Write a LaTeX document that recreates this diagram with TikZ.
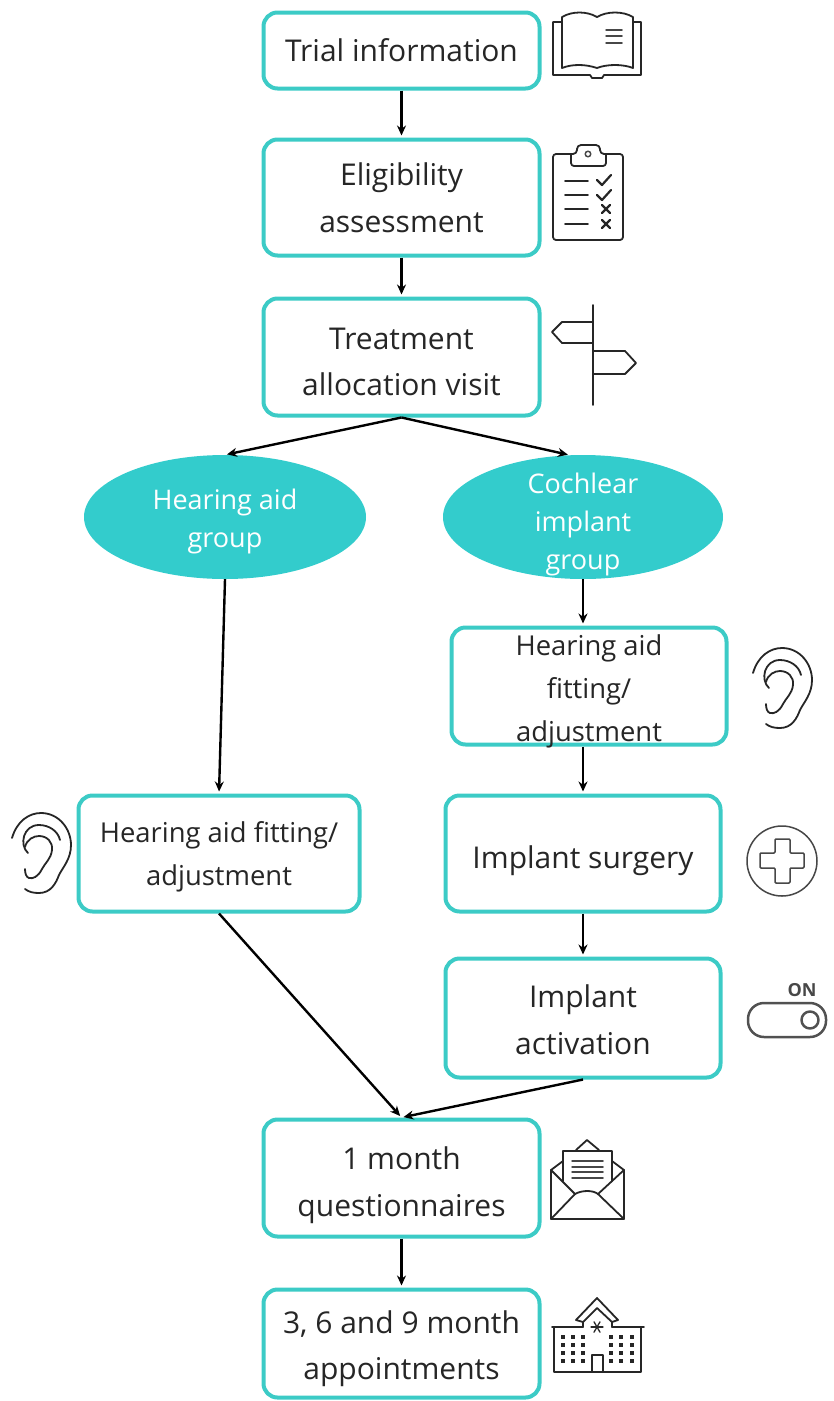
\documentclass[tikz,border=0pt]{standalone}
\usepackage{fontspec}
\setmainfont{Open Sans}
\definecolor{tealline}{HTML}{3CCBC6}
\definecolor{tealfill}{HTML}{33CCCC}
\definecolor{icongray}{HTML}{262626}
\newcommand{\bigtxt}{\fontsize{30}{46.5}\selectfont}
\newcommand{\midtxt}{\fontsize{27.4}{43}\selectfont}
\newcommand{\elltxt}{\fontsize{27}{38}\selectfont}
\newcommand{\dropln}[1]{\rule{0pt}{#1pt}}
\usetikzlibrary{arrows.meta,shapes.geometric}
\tikzset{
  flowbox/.style={draw=tealline,line width=4pt,rounded corners=14pt,fill=white,align=center,inner sep=0pt,text=black!85,font=\bigtxt},
  midbox/.style={flowbox,font=\midtxt},
  groupnode/.style={ellipse,fill=tealfill,text=white,align=center,inner sep=0pt,font=\elltxt},
  flowarrow/.style={-{Stealth[length=10pt,width=9pt]},line width=2.4pt,shorten >=2pt},
  iconline/.style={draw=icongray,line width=1.8pt,line join=round,line cap=round},
  iconthin/.style={draw=icongray!85,line width=1.5pt,line join=round,line cap=round}
}
\begin{document}
\begin{tikzpicture}[x=1pt,y=-1pt]
  \useasboundingbox (0,0) rectangle (834,1401);
  \node[flowbox,minimum width=276pt,minimum height=76pt] (trial) at (401.5,50.5) {Trial information};
  \node[flowbox,minimum width=276pt,minimum height=116pt] (elig) at (401.5,197.5) {Eligibility\\assessment};
  \node[flowbox,minimum width=276pt,minimum height=117pt] (alloc) at (401.5,357) {\dropln{31}Treatment\\allocation visit};
  \node[groupnode,minimum width=282pt,minimum height=124pt] (hagroup) at (225,517) {\dropln{29}Hearing aid\\group};
  \node[groupnode,inner sep=-16pt,minimum width=280pt,minimum height=124pt] (cigroup) at (583,517) {\dropln{35}Cochlear\\implant\\group};
  \node[midbox,inner ysep=-8pt,minimum width=275pt,minimum height=117pt] (hafitr) at (589,686) {\dropln{31}Hearing aid\\fitting/\\adjustment};
  \node[midbox,minimum width=281pt,minimum height=116pt] (hafitl) at (219,853.5) {\dropln{27}Hearing aid fitting/\\adjustment};
  \node[flowbox,minimum width=275pt,minimum height=116pt] (surgery) at (583,853.5) {\dropln{37}Implant surgery};
  \node[flowbox,minimum width=275pt,minimum height=119pt] (activ) at (583,1018) {\dropln{26}Implant\\activation};
  \node[flowbox,minimum width=276pt,minimum height=117pt] (month) at (401.5,1178) {\dropln{37}1 month\\questionnaires};
  \node[flowbox,minimum width=276pt,minimum height=108pt] (appt) at (401.5,1343.5) {\dropln{33}3, 6 and 9 month\\appointments};

  \foreach \a/\b in {trial/elig,elig/alloc,hagroup/hafitl,activ/month,hafitl/month,month/appt,surgery/activ}
    \draw[flowarrow] (\a.south) -- (\b.north);
  \draw[flowarrow] (cigroup.south) -- (cigroup.south |- hafitr.north);
  \draw[flowarrow] (surgery.north |- hafitr.south) -- (surgery.north);
  \draw[flowarrow] (alloc.south) -- (hagroup.north);
  \draw[flowarrow] (alloc.south) -- (cigroup.102);

  % book
  \draw[iconline] (562,22) -- (553,22) -- (553,75) -- (590,75) -- (592,78) -- (602,78) -- (604,75) -- (641,75) -- (641,22) -- (633,22);
  \draw[iconline] (597,68) .. controls (585,64) and (572,64) .. (562,68) -- (562,17) .. controls (572,11) and (587,11) .. (597,17) .. controls (607,11) and (623,11) .. (633,17) -- (633,68) .. controls (623,64) and (607,64) .. (597,68) -- cycle;
  \foreach \y in {30,36,43}
    \draw[iconthin] (606,\y) -- (622,\y);
  % clipboard
  \draw[iconline,rounded corners=3pt] (571,154) -- (553,154) -- (553,240) -- (623,240) -- (623,154) -- (606,154);
  \draw[iconline,rounded corners=3pt] (571,154) -- (571,166) -- (606,166) -- (606,154);
  \draw[iconline,rounded corners=4pt] (571,154) -- (577,154) -- (577,145) -- (600,145) -- (600,154) -- (606,154);
  \draw[iconthin] (588,154) circle (2.8);
  \foreach \y in {181,195,209,224}
    \draw[iconline] (565,\y) -- (588,\y);
  \foreach \y in {180,195}
    \draw[iconline,line width=2.2pt] (597,\y) -- (602,\y+5) -- (611,\y-5);
  \foreach \y in {209,224} {
    \draw[iconline,line width=2.2pt] (602,\y-4) -- (610,\y+4);
    \draw[iconline,line width=2.2pt] (602,\y+4) -- (610,\y-4);
  }
  % signpost
  \draw[iconline] (593,305) -- (593,405);
  \draw[iconline] (593,322) -- (562,322) -- (552,332) -- (562,343) -- (593,343);
  \draw[iconline] (593,351) -- (625,351) -- (636,363) -- (625,374) -- (593,374);
  % ears
  \foreach \ex/\ey in {730/630,-11/795} {
    \begin{scope}[shift={(\ex,\ey)}]
      \draw[iconline] (23,43) .. controls (28,26) and (40,18) .. (52,18) .. controls (70,18) and (82,34) .. (82,50) .. controls (82,64) and (74,72) .. (70,80) .. controls (67,88) and (62,98) .. (50,98) .. controls (44,98) and (40,97) .. (36,94);
      \draw[iconline] (39,58) .. controls (30,50) and (34,30) .. (50,30) .. controls (60,30) and (69,36) .. (71,45);
      \draw[iconline] (36,52) .. controls (38,44) and (45,41) .. (50,41) .. controls (58,41) and (64,47) .. (63,55) .. controls (62,64) and (56,68) .. (53,74) .. controls (49,82) and (44,84) .. (40,83) .. controls (37,82) and (36,78) .. (36,74);
    \end{scope}
  }
  % cross
  \draw[iconthin] (782,861) circle (35);
  \draw[iconthin,rounded corners=1pt] (775,839) -- (790,839) -- (790,853) -- (804,853) -- (804,868) -- (790,868) -- (790,883) -- (775,883) -- (775,868) -- (760,868) -- (760,853) -- (775,853) -- cycle;
  % switch
  \node[inner sep=0pt,text=icongray!85] (onlabel) at (802,990) {\fontsize{18}{18}\selectfont\bfseries ON};
  \draw[iconthin,draw=icongray!80,line width=2.5pt,rounded corners=16pt] (748,1003) rectangle (826,1037);
  \draw[iconthin,draw=icongray!80,line width=2.5pt] (810,1020) circle (8.5);
  % envelope
  \draw[iconline] (551,1170) -- (551,1219) -- (624,1219) -- (624,1170);
  \draw[iconline] (551,1170) -- (575,1194) .. controls (582,1190) and (593,1190) .. (598,1194) -- (624,1170);
  \draw[iconline] (551,1219) -- (575,1194);
  \draw[iconline] (624,1219) -- (598,1194);
  \draw[iconline] (563,1161) -- (551,1170);
  \draw[iconline] (612,1161) -- (624,1170);
  \draw[iconline] (576,1150) -- (587,1140) -- (599,1150);
  \draw[iconline] (563,1181) -- (563,1151) -- (612,1151) -- (612,1181);
  \foreach \y in {1161,1167,1172,1178}
    \draw[iconthin] (572,\y) -- (603,\y);
  % school
  \draw[iconline] (552,1327) -- (583,1327);
  \draw[iconline] (612,1327) -- (644,1327);
  \draw[iconline] (554,1327) -- (554,1372) -- (641,1372) -- (641,1327);
  \draw[iconline] (583,1327) -- (583,1322) -- (576,1320) -- (597,1298) -- (618,1320) -- (612,1322) -- (612,1327);
  \draw[iconline] (583,1322) -- (597,1308) -- (612,1322);
  \draw[iconline] (592,1372) -- (592,1355) -- (603,1355) -- (603,1372);
  \foreach \x in {563,573,583,611,621,632}
    \foreach \y in {1337,1345,1353,1361}
      \fill[icongray] (\x-1.8,\y-1.8) rectangle (\x+1.8,\y+1.8);
  \foreach \r in {0,60,120}
    \draw[iconline,line width=1.3pt] (597,1327) ++(\r:6) -- ++(\r+180:12);
\end{tikzpicture}
\end{document}
